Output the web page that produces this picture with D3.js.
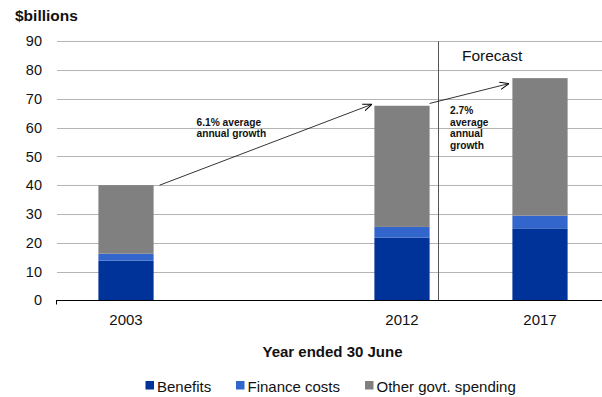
<!DOCTYPE html>
<html>
<head>
<meta charset="utf-8">
<script src="https://cdn.jsdelivr.net/npm/d3@7/dist/d3.min.js"></script>
<style>
  html, body { margin: 0; padding: 0; background: #fff; }
  svg { display: block; font-family: "Liberation Sans", Arial, sans-serif; }
</style>
</head>
<body>
<svg id="chart" width="602" height="397"></svg>
<script>
// Categories on the x axis ("gap" is an empty slot that keeps the spacing between years)
const categories = ["2003", "gap", "2012", "2017"];
const years = ["2003", "2012", "2017"];

// Spending components, $ billions
const benefits     = [13.8, 21.8, 25.0];
const financeCosts = [2.4, 3.7, 4.4];
const otherSpending = [23.8, 42.1, 47.8];

const seriesNames  = ["Benefits", "Finance costs", "Other govt. spending"];
const seriesColors = ["#003399", "#3366cc", "#808080"];

const yTicks = [0, 10, 20, 30, 40, 50, 60, 70, 80, 90];

// Growth annotations: arrow from one year's total to the next
const growthFrom   = ["2003", "2012"];
const growthTo     = ["2012", "2017"];
const growthStartY = [40.0, 68.4];
const growthEndY   = [68.1, 75.3];
const growthLabels = [["6.1% average", "annual growth"], ["2.7%", "average", "annual", "growth"]];

const svg = d3.select("#chart");

const x = d3.scaleBand()
  .domain(categories)
  .range([57, 609])
  .paddingInner(0.6)
  .paddingOuter(0.3);

const y = d3.scaleLinear().domain([0, 90]).range([300.3, 41.3]);

const defs = svg.append("defs");
defs.append("marker")
  .attr("id", "arrowhead")
  .attr("viewBox", "0 0 10 10")
  .attr("refX", 10).attr("refY", 5)
  .attr("markerWidth", 9).attr("markerHeight", 9)
  .attr("markerUnits", "userSpaceOnUse")
  .attr("orient", "auto")
  .append("path")
  .attr("d", "M0,1 L10,5 L0,9")
  .attr("fill", "none")
  .attr("stroke", "#000")
  .attr("stroke-width", 1.1);

// Horizontal gridlines
svg.append("g")
  .selectAll("line")
  .data(yTicks.filter(d => d > 0))
  .join("line")
  .attr("x1", 57).attr("x2", 602)
  .attr("y1", d => Math.round(y(d)) + 0.5)
  .attr("y2", d => Math.round(y(d)) + 0.5)
  .attr("stroke", "#b4b4b4")
  .attr("stroke-width", 1);

// Y axis tick labels
const yAxis = d3.axisLeft(y).tickValues(yTicks).tickSize(0).tickPadding(0);
const yG = svg.append("g").attr("transform", "translate(42,0)").call(yAxis);
yG.select(".domain").remove();
yG.selectAll("text")
  .attr("font-size", 14.5)
  .attr("fill", "#111")
  .attr("font-family", "Liberation Sans, Arial, sans-serif");

// Stacked bars
const rows = years.map((yr, i) => ({
  year: yr,
  "Benefits": benefits[i],
  "Finance costs": financeCosts[i],
  "Other govt. spending": otherSpending[i]
}));
const stacked = d3.stack().keys(seriesNames)(rows);

svg.append("g")
  .selectAll("g")
  .data(stacked)
  .join("g")
  .attr("fill", (d, i) => seriesColors[i])
  .selectAll("rect")
  .data(d => d)
  .join("rect")
  .attr("x", d => x(d.data.year))
  .attr("width", x.bandwidth())
  .attr("y", d => y(d[1]))
  .attr("height", d => y(d[0]) - y(d[1]));

// Forecast divider
const forecastX = Math.round(x("2012") + x.bandwidth() + 0.06 * x.step()) + 0.5;
svg.append("line")
  .attr("x1", forecastX).attr("x2", forecastX)
  .attr("y1", y(90)).attr("y2", y(0))
  .attr("stroke", "#555").attr("stroke-width", 1);
svg.append("text")
  .attr("x", forecastX + 23.5).attr("y", 61)
  .attr("font-size", 15.5).attr("fill", "#111")
  .text("Forecast");

// X axis line
const baseY = Math.round(y(0)) + 0.5;
svg.append("line")
  .attr("x1", 56).attr("x2", 602)
  .attr("y1", baseY).attr("y2", baseY)
  .attr("stroke", "#000").attr("stroke-width", 1.2);
svg.append("line")
  .attr("x1", 56.5).attr("x2", 56.5)
  .attr("y1", baseY).attr("y2", baseY + 4)
  .attr("stroke", "#000").attr("stroke-width", 1);

// X labels
svg.append("g")
  .selectAll("text")
  .data(years)
  .join("text")
  .attr("x", d => x(d) + x.bandwidth() / 2)
  .attr("y", 325)
  .attr("text-anchor", "middle")
  .attr("font-size", 15).attr("fill", "#111")
  .text(d => d);

// Growth arrows and labels
growthFrom.forEach((from, i) => {
  const to = growthTo[i];
  const x1 = x(from) + x.bandwidth() + (i === 0 ? 6 : 0);
  const x2 = x(to) - (i === 0 ? 2.5 : 3.5);
  svg.append("line")
    .attr("x1", x1).attr("y1", y(growthStartY[i]))
    .attr("x2", x2).attr("y2", y(growthEndY[i]))
    .attr("stroke", "#000").attr("stroke-width", 0.8)
    .attr("marker-end", "url(#arrowhead)");
});

const noteX = [196.5, forecastX + 11.5];
const noteY = [125.5, 114];
const noteStep = [11.7, 11.6];
growthLabels.forEach((lines, i) => {
  svg.append("text")
    .attr("font-size", 10.2).attr("font-weight", "bold").attr("fill", "#111")
    .selectAll("tspan")
    .data(lines)
    .join("tspan")
    .attr("x", noteX[i])
    .attr("y", (d, j) => noteY[i] + j * noteStep[i])
    .text(d => d);
});

// Titles
svg.append("text")
  .attr("x", 15).attr("y", 21)
  .attr("font-size", 15.5).attr("font-weight", "bold").attr("fill", "#111")
  .text("$billions");

svg.append("text")
  .attr("x", 332.5).attr("y", 357)
  .attr("text-anchor", "middle")
  .attr("font-size", 15).attr("font-weight", "bold").attr("fill", "#111")
  .text("Year ended 30 June");

// Legend
const legendX = [145.5, 236, 365];
const legend = svg.append("g")
  .selectAll("g")
  .data(seriesNames)
  .join("g")
  .attr("transform", (d, i) => `translate(${legendX[i]},0)`);
legend.append("rect")
  .attr("x", 0).attr("y", 381)
  .attr("width", 8.5).attr("height", 8.5)
  .attr("fill", (d, i) => seriesColors[i]);
legend.append("text")
  .attr("x", 11.5).attr("y", 392)
  .attr("font-size", 15).attr("fill", "#111")
  .text(d => d);
</script>
</body>
</html>
